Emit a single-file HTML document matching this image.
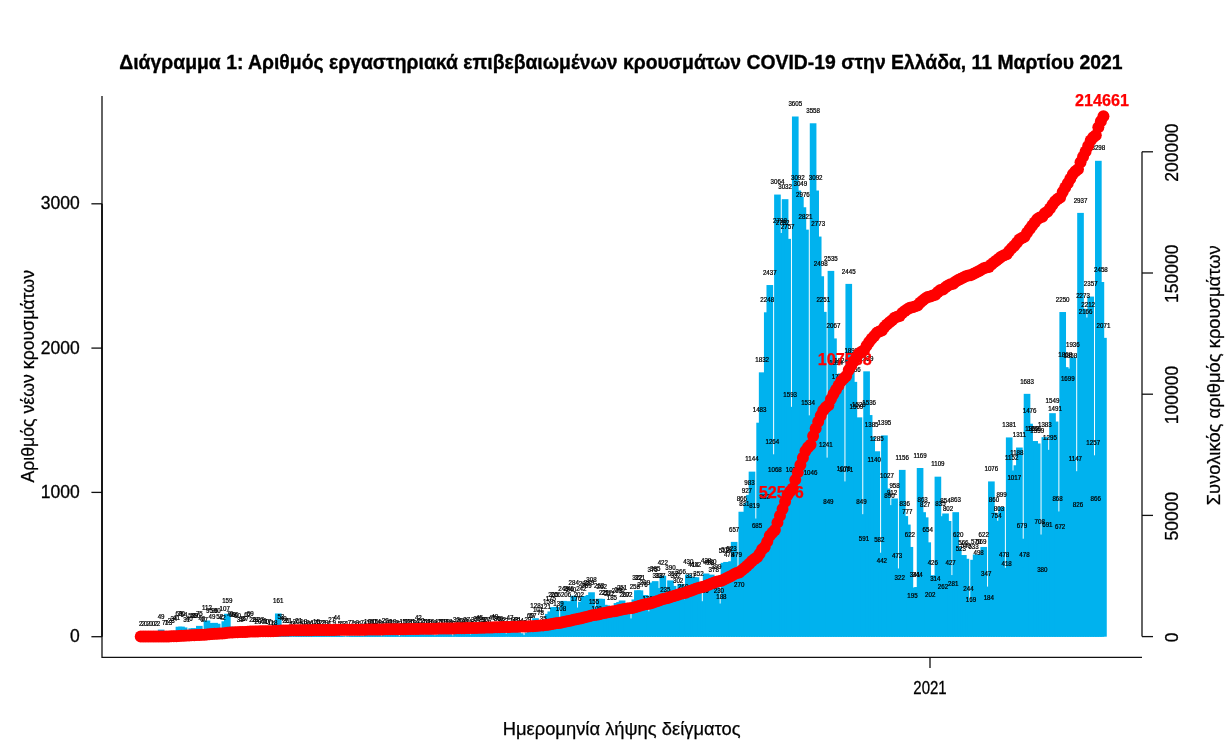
<!DOCTYPE html>
<html lang="el"><head><meta charset="utf-8"><title>Διάγραμμα 1</title>
<style>html,body{margin:0;padding:0;background:#fff}svg{display:block;will-change:transform}text{font-family:"Liberation Sans",sans-serif}</style></head><body>
<svg width="1232" height="752" viewBox="0 0 1232 752">
<g fill="#00b2ee">
<rect x="137.43" y="636.41" width="6.65" height="0.29"/>
<rect x="139.97" y="636.41" width="6.65" height="0.29"/>
<rect x="145.07" y="636.41" width="6.65" height="0.29"/>
<rect x="152.71" y="636.41" width="6.65" height="0.29"/>
<rect x="155.25" y="636.41" width="6.65" height="0.29"/>
<rect x="157.80" y="629.63" width="6.65" height="7.07"/>
<rect x="160.35" y="635.69" width="6.65" height="1.01"/>
<rect x="162.89" y="635.69" width="6.65" height="1.01"/>
<rect x="165.44" y="634.82" width="6.65" height="1.88"/>
<rect x="167.99" y="633.38" width="6.65" height="3.32"/>
<rect x="170.53" y="631.79" width="6.65" height="4.91"/>
<rect x="173.08" y="630.78" width="6.65" height="5.92"/>
<rect x="175.63" y="626.74" width="6.65" height="9.96"/>
<rect x="178.17" y="626.60" width="6.65" height="10.10"/>
<rect x="180.72" y="627.46" width="6.65" height="9.24"/>
<rect x="183.27" y="632.23" width="6.65" height="4.47"/>
<rect x="185.81" y="630.93" width="6.65" height="5.77"/>
<rect x="188.36" y="628.33" width="6.65" height="8.37"/>
<rect x="190.91" y="628.19" width="6.65" height="8.51"/>
<rect x="193.45" y="628.62" width="6.65" height="8.08"/>
<rect x="196.00" y="625.88" width="6.65" height="10.82"/>
<rect x="198.55" y="630.93" width="6.65" height="5.77"/>
<rect x="201.10" y="632.80" width="6.65" height="3.90"/>
<rect x="203.64" y="620.54" width="6.65" height="16.16"/>
<rect x="206.19" y="622.99" width="6.65" height="13.71"/>
<rect x="208.74" y="629.63" width="6.65" height="7.07"/>
<rect x="211.28" y="622.85" width="6.65" height="13.85"/>
<rect x="213.83" y="623.71" width="6.65" height="12.99"/>
<rect x="216.38" y="629.20" width="6.65" height="7.50"/>
<rect x="218.92" y="630.64" width="6.65" height="6.06"/>
<rect x="221.47" y="621.26" width="6.65" height="15.44"/>
<rect x="224.02" y="613.76" width="6.65" height="22.94"/>
<rect x="226.56" y="626.60" width="6.65" height="10.10"/>
<rect x="229.11" y="626.89" width="6.65" height="9.81"/>
<rect x="231.66" y="627.18" width="6.65" height="9.52"/>
<rect x="234.20" y="628.04" width="6.65" height="8.66"/>
<rect x="236.75" y="632.23" width="6.65" height="4.47"/>
<rect x="239.30" y="631.51" width="6.65" height="5.19"/>
<rect x="241.84" y="631.36" width="6.65" height="5.34"/>
<rect x="244.39" y="627.75" width="6.65" height="8.95"/>
<rect x="246.94" y="626.74" width="6.65" height="9.96"/>
<rect x="249.48" y="632.66" width="6.65" height="4.04"/>
<rect x="252.03" y="632.66" width="6.65" height="4.04"/>
<rect x="254.58" y="633.81" width="6.65" height="2.89"/>
<rect x="257.12" y="632.80" width="6.65" height="3.90"/>
<rect x="259.67" y="632.95" width="6.65" height="3.75"/>
<rect x="262.22" y="633.81" width="6.65" height="2.89"/>
<rect x="264.77" y="634.25" width="6.65" height="2.45"/>
<rect x="267.31" y="635.11" width="6.65" height="1.59"/>
<rect x="269.86" y="635.83" width="6.65" height="0.87"/>
<rect x="272.41" y="635.55" width="6.65" height="1.15"/>
<rect x="274.95" y="613.47" width="6.65" height="23.23"/>
<rect x="277.50" y="629.05" width="6.65" height="7.65"/>
<rect x="280.05" y="630.93" width="6.65" height="5.77"/>
<rect x="282.59" y="632.95" width="6.65" height="3.75"/>
<rect x="285.14" y="633.67" width="6.65" height="3.03"/>
<rect x="287.69" y="636.12" width="6.65" height="0.58"/>
<rect x="290.23" y="636.27" width="6.65" height="0.43"/>
<rect x="292.78" y="633.81" width="6.65" height="2.89"/>
<rect x="295.33" y="633.67" width="6.65" height="3.03"/>
<rect x="297.87" y="635.83" width="6.65" height="0.87"/>
<rect x="300.42" y="634.10" width="6.65" height="2.60"/>
<rect x="302.97" y="635.26" width="6.65" height="1.44"/>
<rect x="305.51" y="635.83" width="6.65" height="0.87"/>
<rect x="308.06" y="635.83" width="6.65" height="0.87"/>
<rect x="310.61" y="634.97" width="6.65" height="1.73"/>
<rect x="313.15" y="634.54" width="6.65" height="2.16"/>
<rect x="315.70" y="634.97" width="6.65" height="1.73"/>
<rect x="318.25" y="634.97" width="6.65" height="1.73"/>
<rect x="320.79" y="635.40" width="6.65" height="1.30"/>
<rect x="323.34" y="635.40" width="6.65" height="1.30"/>
<rect x="325.89" y="636.12" width="6.65" height="0.58"/>
<rect x="328.44" y="632.80" width="6.65" height="3.90"/>
<rect x="330.98" y="635.40" width="6.65" height="1.30"/>
<rect x="333.53" y="630.35" width="6.65" height="6.35"/>
<rect x="336.08" y="635.98" width="6.65" height="0.72"/>
<rect x="338.62" y="635.98" width="6.65" height="0.72"/>
<rect x="341.17" y="636.27" width="6.65" height="0.43"/>
<rect x="343.72" y="636.56" width="6.65" height="0.14"/>
<rect x="346.26" y="635.69" width="6.65" height="1.01"/>
<rect x="348.81" y="635.69" width="6.65" height="1.01"/>
<rect x="351.36" y="635.98" width="6.65" height="0.72"/>
<rect x="353.90" y="635.55" width="6.65" height="1.15"/>
<rect x="356.45" y="635.83" width="6.65" height="0.87"/>
<rect x="359.00" y="635.69" width="6.65" height="1.01"/>
<rect x="361.54" y="636.12" width="6.65" height="0.58"/>
<rect x="364.09" y="633.96" width="6.65" height="2.74"/>
<rect x="366.64" y="634.82" width="6.65" height="1.88"/>
<rect x="369.18" y="633.81" width="6.65" height="2.89"/>
<rect x="371.73" y="634.54" width="6.65" height="2.16"/>
<rect x="374.28" y="634.68" width="6.65" height="2.02"/>
<rect x="376.82" y="635.55" width="6.65" height="1.15"/>
<rect x="379.37" y="636.27" width="6.65" height="0.43"/>
<rect x="381.92" y="633.53" width="6.65" height="3.17"/>
<rect x="384.46" y="634.68" width="6.65" height="2.02"/>
<rect x="387.01" y="635.11" width="6.65" height="1.59"/>
<rect x="389.56" y="633.96" width="6.65" height="2.74"/>
<rect x="392.11" y="634.97" width="6.65" height="1.73"/>
<rect x="394.65" y="635.83" width="6.65" height="0.87"/>
<rect x="397.20" y="636.27" width="6.65" height="0.43"/>
<rect x="399.75" y="634.54" width="6.65" height="2.16"/>
<rect x="402.29" y="634.25" width="6.65" height="2.45"/>
<rect x="404.84" y="634.10" width="6.65" height="2.60"/>
<rect x="407.39" y="634.54" width="6.65" height="2.16"/>
<rect x="409.93" y="634.82" width="6.65" height="1.88"/>
<rect x="412.48" y="634.68" width="6.65" height="2.02"/>
<rect x="415.03" y="630.64" width="6.65" height="6.06"/>
<rect x="417.57" y="633.53" width="6.65" height="3.17"/>
<rect x="420.12" y="634.54" width="6.65" height="2.16"/>
<rect x="422.67" y="634.68" width="6.65" height="2.02"/>
<rect x="425.21" y="634.10" width="6.65" height="2.60"/>
<rect x="427.76" y="634.39" width="6.65" height="2.31"/>
<rect x="430.31" y="635.26" width="6.65" height="1.44"/>
<rect x="432.85" y="635.83" width="6.65" height="0.87"/>
<rect x="435.40" y="634.54" width="6.65" height="2.16"/>
<rect x="437.95" y="633.81" width="6.65" height="2.89"/>
<rect x="440.49" y="633.96" width="6.65" height="2.74"/>
<rect x="443.04" y="633.96" width="6.65" height="2.74"/>
<rect x="445.59" y="634.10" width="6.65" height="2.60"/>
<rect x="448.13" y="635.40" width="6.65" height="1.30"/>
<rect x="450.68" y="636.27" width="6.65" height="0.43"/>
<rect x="453.23" y="631.94" width="6.65" height="4.76"/>
<rect x="455.78" y="633.67" width="6.65" height="3.03"/>
<rect x="458.32" y="634.10" width="6.65" height="2.60"/>
<rect x="460.87" y="633.38" width="6.65" height="3.32"/>
<rect x="463.42" y="632.80" width="6.65" height="3.90"/>
<rect x="465.96" y="634.39" width="6.65" height="2.31"/>
<rect x="468.51" y="635.83" width="6.65" height="0.87"/>
<rect x="471.06" y="632.37" width="6.65" height="4.33"/>
<rect x="473.60" y="631.65" width="6.65" height="5.05"/>
<rect x="476.15" y="630.21" width="6.65" height="6.49"/>
<rect x="478.70" y="632.52" width="6.65" height="4.18"/>
<rect x="481.24" y="632.37" width="6.65" height="4.33"/>
<rect x="483.79" y="632.80" width="6.65" height="3.90"/>
<rect x="486.34" y="635.55" width="6.65" height="1.15"/>
<rect x="488.88" y="630.21" width="6.65" height="6.49"/>
<rect x="491.43" y="629.63" width="6.65" height="7.07"/>
<rect x="493.98" y="631.51" width="6.65" height="5.19"/>
<rect x="496.52" y="630.93" width="6.65" height="5.77"/>
<rect x="499.07" y="632.08" width="6.65" height="4.62"/>
<rect x="501.62" y="633.53" width="6.65" height="3.17"/>
<rect x="504.16" y="636.27" width="6.65" height="0.43"/>
<rect x="506.71" y="629.92" width="6.65" height="6.78"/>
<rect x="509.26" y="633.24" width="6.65" height="3.46"/>
<rect x="511.80" y="631.94" width="6.65" height="4.76"/>
<rect x="514.35" y="632.23" width="6.65" height="4.47"/>
<rect x="516.90" y="633.24" width="6.65" height="3.46"/>
<rect x="519.44" y="635.26" width="6.65" height="1.44"/>
<rect x="521.99" y="635.40" width="6.65" height="1.30"/>
<rect x="524.54" y="632.52" width="6.65" height="4.18"/>
<rect x="527.09" y="628.04" width="6.65" height="8.66"/>
<rect x="529.63" y="628.47" width="6.65" height="8.23"/>
<rect x="532.18" y="618.23" width="6.65" height="18.47"/>
<rect x="534.73" y="622.13" width="6.65" height="14.57"/>
<rect x="537.27" y="625.44" width="6.65" height="11.26"/>
<rect x="539.82" y="631.65" width="6.65" height="5.05"/>
<rect x="542.37" y="619.24" width="6.65" height="17.46"/>
<rect x="544.91" y="613.90" width="6.65" height="22.80"/>
<rect x="547.46" y="611.45" width="6.65" height="25.25"/>
<rect x="550.01" y="607.12" width="6.65" height="29.58"/>
<rect x="552.55" y="606.97" width="6.65" height="29.73"/>
<rect x="555.10" y="616.64" width="6.65" height="20.06"/>
<rect x="557.65" y="621.12" width="6.65" height="15.58"/>
<rect x="560.19" y="600.91" width="6.65" height="35.79"/>
<rect x="562.74" y="606.97" width="6.65" height="29.73"/>
<rect x="565.29" y="601.20" width="6.65" height="35.50"/>
<rect x="567.83" y="602.07" width="6.65" height="34.63"/>
<rect x="570.38" y="595.72" width="6.65" height="40.98"/>
<rect x="572.93" y="611.30" width="6.65" height="25.40"/>
<rect x="575.47" y="607.55" width="6.65" height="29.15"/>
<rect x="578.02" y="601.78" width="6.65" height="34.92"/>
<rect x="580.57" y="596.01" width="6.65" height="40.69"/>
<rect x="583.12" y="597.88" width="6.65" height="38.82"/>
<rect x="585.66" y="595.00" width="6.65" height="41.70"/>
<rect x="588.21" y="592.26" width="6.65" height="44.44"/>
<rect x="590.76" y="614.33" width="6.65" height="22.37"/>
<rect x="593.30" y="621.12" width="6.65" height="15.58"/>
<rect x="595.85" y="598.75" width="6.65" height="37.95"/>
<rect x="598.40" y="598.89" width="6.65" height="37.81"/>
<rect x="600.94" y="604.81" width="6.65" height="31.89"/>
<rect x="603.49" y="605.39" width="6.65" height="31.31"/>
<rect x="606.04" y="606.11" width="6.65" height="30.59"/>
<rect x="608.58" y="610.00" width="6.65" height="26.70"/>
<rect x="611.13" y="621.84" width="6.65" height="14.86"/>
<rect x="613.68" y="603.08" width="6.65" height="33.62"/>
<rect x="616.22" y="602.07" width="6.65" height="34.63"/>
<rect x="618.77" y="600.48" width="6.65" height="36.22"/>
<rect x="621.32" y="606.83" width="6.65" height="29.87"/>
<rect x="623.86" y="607.55" width="6.65" height="29.15"/>
<rect x="626.41" y="618.81" width="6.65" height="17.89"/>
<rect x="628.96" y="618.52" width="6.65" height="18.18"/>
<rect x="631.50" y="599.47" width="6.65" height="37.23"/>
<rect x="634.05" y="590.24" width="6.65" height="46.46"/>
<rect x="636.60" y="590.38" width="6.65" height="46.32"/>
<rect x="639.14" y="596.87" width="6.65" height="39.83"/>
<rect x="641.69" y="595.00" width="6.65" height="41.70"/>
<rect x="644.24" y="611.30" width="6.65" height="25.40"/>
<rect x="646.78" y="617.22" width="6.65" height="19.48"/>
<rect x="649.33" y="582.59" width="6.65" height="54.11"/>
<rect x="651.88" y="581.14" width="6.65" height="55.56"/>
<rect x="654.43" y="588.65" width="6.65" height="48.05"/>
<rect x="656.97" y="588.07" width="6.65" height="48.63"/>
<rect x="659.52" y="575.81" width="6.65" height="60.89"/>
<rect x="662.07" y="602.79" width="6.65" height="33.91"/>
<rect x="664.61" y="608.71" width="6.65" height="27.99"/>
<rect x="667.16" y="580.42" width="6.65" height="56.28"/>
<rect x="669.71" y="585.91" width="6.65" height="50.79"/>
<rect x="672.25" y="588.79" width="6.65" height="47.91"/>
<rect x="674.80" y="593.12" width="6.65" height="43.58"/>
<rect x="677.35" y="583.89" width="6.65" height="52.81"/>
<rect x="679.89" y="599.18" width="6.65" height="37.52"/>
<rect x="682.44" y="603.22" width="6.65" height="33.48"/>
<rect x="684.99" y="574.65" width="6.65" height="62.05"/>
<rect x="687.53" y="588.07" width="6.65" height="48.63"/>
<rect x="690.08" y="576.96" width="6.65" height="59.74"/>
<rect x="692.63" y="577.25" width="6.65" height="59.45"/>
<rect x="695.17" y="585.91" width="6.65" height="50.79"/>
<rect x="697.72" y="601.20" width="6.65" height="35.50"/>
<rect x="700.27" y="603.51" width="6.65" height="33.19"/>
<rect x="702.81" y="573.50" width="6.65" height="63.20"/>
<rect x="705.36" y="574.94" width="6.65" height="61.76"/>
<rect x="707.91" y="574.65" width="6.65" height="62.05"/>
<rect x="710.46" y="582.15" width="6.65" height="54.55"/>
<rect x="713.00" y="579.12" width="6.65" height="57.58"/>
<rect x="715.55" y="603.51" width="6.65" height="33.19"/>
<rect x="718.10" y="609.57" width="6.65" height="27.13"/>
<rect x="720.64" y="562.82" width="6.65" height="73.88"/>
<rect x="723.19" y="561.95" width="6.65" height="74.75"/>
<rect x="725.74" y="567.72" width="6.65" height="68.98"/>
<rect x="728.28" y="561.23" width="6.65" height="75.47"/>
<rect x="730.83" y="541.89" width="6.65" height="94.81"/>
<rect x="733.38" y="567.58" width="6.65" height="69.12"/>
<rect x="735.92" y="597.74" width="6.65" height="38.96"/>
<rect x="738.47" y="511.74" width="6.65" height="124.96"/>
<rect x="741.02" y="516.79" width="6.65" height="119.91"/>
<rect x="743.56" y="502.93" width="6.65" height="133.77"/>
<rect x="746.11" y="494.85" width="6.65" height="141.85"/>
<rect x="748.66" y="471.62" width="6.65" height="165.08"/>
<rect x="751.20" y="518.52" width="6.65" height="118.18"/>
<rect x="753.75" y="537.85" width="6.65" height="98.85"/>
<rect x="756.30" y="422.70" width="6.65" height="214.00"/>
<rect x="758.84" y="372.34" width="6.65" height="264.36"/>
<rect x="761.39" y="509.43" width="6.65" height="127.27"/>
<rect x="763.94" y="312.31" width="6.65" height="324.39"/>
<rect x="766.48" y="285.04" width="6.65" height="351.66"/>
<rect x="769.03" y="454.30" width="6.65" height="182.40"/>
<rect x="771.58" y="482.59" width="6.65" height="154.11"/>
<rect x="774.12" y="194.56" width="6.65" height="442.14"/>
<rect x="776.67" y="232.95" width="6.65" height="403.75"/>
<rect x="779.22" y="235.26" width="6.65" height="401.44"/>
<rect x="781.77" y="199.18" width="6.65" height="437.52"/>
<rect x="784.31" y="238.86" width="6.65" height="397.84"/>
<rect x="786.86" y="406.83" width="6.65" height="229.87"/>
<rect x="789.41" y="481.87" width="6.65" height="154.83"/>
<rect x="791.95" y="116.50" width="6.65" height="520.20"/>
<rect x="794.50" y="190.52" width="6.65" height="446.18"/>
<rect x="797.05" y="196.73" width="6.65" height="439.97"/>
<rect x="799.59" y="207.26" width="6.65" height="429.44"/>
<rect x="802.14" y="229.63" width="6.65" height="407.07"/>
<rect x="804.69" y="415.34" width="6.65" height="221.36"/>
<rect x="807.23" y="485.76" width="6.65" height="150.94"/>
<rect x="809.78" y="123.28" width="6.65" height="513.42"/>
<rect x="812.33" y="190.52" width="6.65" height="446.18"/>
<rect x="814.87" y="236.56" width="6.65" height="400.14"/>
<rect x="817.42" y="276.24" width="6.65" height="360.46"/>
<rect x="819.97" y="311.88" width="6.65" height="324.82"/>
<rect x="822.51" y="457.62" width="6.65" height="179.08"/>
<rect x="825.06" y="514.19" width="6.65" height="122.51"/>
<rect x="827.61" y="270.90" width="6.65" height="365.80"/>
<rect x="830.15" y="338.43" width="6.65" height="298.27"/>
<rect x="832.70" y="374.94" width="6.65" height="261.76"/>
<rect x="835.25" y="389.23" width="6.65" height="247.47"/>
<rect x="837.79" y="373.50" width="6.65" height="263.20"/>
<rect x="840.34" y="481.43" width="6.65" height="155.27"/>
<rect x="842.89" y="482.15" width="6.65" height="154.55"/>
<rect x="845.44" y="283.89" width="6.65" height="352.81"/>
<rect x="847.98" y="362.96" width="6.65" height="273.74"/>
<rect x="850.53" y="381.87" width="6.65" height="254.83"/>
<rect x="853.08" y="418.95" width="6.65" height="217.75"/>
<rect x="855.62" y="417.36" width="6.65" height="219.34"/>
<rect x="858.17" y="514.19" width="6.65" height="122.51"/>
<rect x="860.72" y="551.42" width="6.65" height="85.28"/>
<rect x="863.26" y="371.33" width="6.65" height="265.37"/>
<rect x="865.81" y="415.06" width="6.65" height="221.64"/>
<rect x="868.36" y="436.84" width="6.65" height="199.86"/>
<rect x="870.90" y="472.20" width="6.65" height="164.50"/>
<rect x="873.45" y="451.27" width="6.65" height="185.43"/>
<rect x="876.00" y="552.72" width="6.65" height="83.98"/>
<rect x="878.54" y="572.92" width="6.65" height="63.78"/>
<rect x="881.09" y="435.40" width="6.65" height="201.30"/>
<rect x="883.64" y="488.50" width="6.65" height="148.20"/>
<rect x="886.18" y="508.27" width="6.65" height="128.43"/>
<rect x="888.73" y="505.10" width="6.65" height="131.60"/>
<rect x="891.28" y="498.46" width="6.65" height="138.24"/>
<rect x="893.82" y="568.45" width="6.65" height="68.25"/>
<rect x="896.37" y="590.24" width="6.65" height="46.46"/>
<rect x="898.92" y="469.89" width="6.65" height="166.81"/>
<rect x="901.47" y="516.07" width="6.65" height="120.63"/>
<rect x="904.01" y="524.58" width="6.65" height="112.12"/>
<rect x="906.56" y="546.95" width="6.65" height="89.75"/>
<rect x="909.11" y="608.56" width="6.65" height="28.14"/>
<rect x="911.65" y="587.49" width="6.65" height="49.21"/>
<rect x="914.20" y="587.06" width="6.65" height="49.64"/>
<rect x="916.75" y="468.01" width="6.65" height="168.69"/>
<rect x="919.29" y="512.17" width="6.65" height="124.53"/>
<rect x="921.84" y="517.36" width="6.65" height="119.34"/>
<rect x="924.39" y="542.33" width="6.65" height="94.37"/>
<rect x="926.93" y="607.55" width="6.65" height="29.15"/>
<rect x="929.48" y="575.23" width="6.65" height="61.47"/>
<rect x="932.03" y="591.39" width="6.65" height="45.31"/>
<rect x="934.57" y="476.67" width="6.65" height="160.03"/>
<rect x="937.12" y="516.21" width="6.65" height="120.49"/>
<rect x="939.67" y="598.89" width="6.65" height="37.81"/>
<rect x="942.21" y="513.47" width="6.65" height="123.23"/>
<rect x="944.76" y="520.97" width="6.65" height="115.73"/>
<rect x="947.31" y="575.08" width="6.65" height="61.62"/>
<rect x="949.85" y="596.15" width="6.65" height="40.55"/>
<rect x="952.40" y="512.17" width="6.65" height="124.53"/>
<rect x="954.95" y="547.23" width="6.65" height="89.47"/>
<rect x="957.49" y="561.23" width="6.65" height="75.47"/>
<rect x="960.04" y="555.03" width="6.65" height="81.67"/>
<rect x="962.59" y="558.78" width="6.65" height="77.92"/>
<rect x="965.13" y="601.49" width="6.65" height="35.21"/>
<rect x="967.68" y="612.31" width="6.65" height="24.39"/>
<rect x="970.23" y="559.79" width="6.65" height="76.91"/>
<rect x="972.78" y="554.45" width="6.65" height="82.25"/>
<rect x="975.32" y="564.84" width="6.65" height="71.86"/>
<rect x="977.87" y="554.59" width="6.65" height="82.11"/>
<rect x="980.42" y="546.95" width="6.65" height="89.75"/>
<rect x="982.96" y="586.63" width="6.65" height="50.07"/>
<rect x="985.51" y="610.15" width="6.65" height="26.55"/>
<rect x="988.06" y="481.43" width="6.65" height="155.27"/>
<rect x="990.60" y="512.60" width="6.65" height="124.10"/>
<rect x="993.15" y="527.90" width="6.65" height="108.80"/>
<rect x="995.70" y="520.83" width="6.65" height="115.87"/>
<rect x="998.24" y="506.97" width="6.65" height="129.73"/>
<rect x="1000.79" y="567.72" width="6.65" height="68.98"/>
<rect x="1003.34" y="576.38" width="6.65" height="60.32"/>
<rect x="1005.88" y="437.42" width="6.65" height="199.28"/>
<rect x="1008.43" y="470.47" width="6.65" height="166.23"/>
<rect x="1010.98" y="489.95" width="6.65" height="146.75"/>
<rect x="1013.52" y="465.27" width="6.65" height="171.43"/>
<rect x="1016.07" y="447.52" width="6.65" height="189.18"/>
<rect x="1018.62" y="538.72" width="6.65" height="97.98"/>
<rect x="1021.16" y="567.72" width="6.65" height="68.98"/>
<rect x="1023.71" y="393.84" width="6.65" height="242.86"/>
<rect x="1026.26" y="423.71" width="6.65" height="212.99"/>
<rect x="1028.81" y="441.61" width="6.65" height="195.09"/>
<rect x="1031.35" y="441.03" width="6.65" height="195.67"/>
<rect x="1033.90" y="443.48" width="6.65" height="193.22"/>
<rect x="1036.45" y="534.54" width="6.65" height="102.16"/>
<rect x="1038.99" y="581.87" width="6.65" height="54.83"/>
<rect x="1041.54" y="437.13" width="6.65" height="199.57"/>
<rect x="1044.09" y="536.99" width="6.65" height="99.71"/>
<rect x="1046.63" y="449.83" width="6.65" height="186.87"/>
<rect x="1049.18" y="413.18" width="6.65" height="223.52"/>
<rect x="1051.73" y="421.55" width="6.65" height="215.15"/>
<rect x="1054.27" y="511.45" width="6.65" height="125.25"/>
<rect x="1056.82" y="539.73" width="6.65" height="96.97"/>
<rect x="1059.37" y="312.03" width="6.65" height="324.68"/>
<rect x="1061.91" y="367.15" width="6.65" height="269.55"/>
<rect x="1064.46" y="391.53" width="6.65" height="245.17"/>
<rect x="1067.01" y="368.59" width="6.65" height="268.11"/>
<rect x="1069.55" y="357.34" width="6.65" height="279.36"/>
<rect x="1072.10" y="471.19" width="6.65" height="165.51"/>
<rect x="1074.65" y="517.51" width="6.65" height="119.19"/>
<rect x="1077.19" y="212.89" width="6.65" height="423.81"/>
<rect x="1079.74" y="308.71" width="6.65" height="327.99"/>
<rect x="1082.29" y="324.15" width="6.65" height="312.55"/>
<rect x="1084.83" y="317.51" width="6.65" height="319.19"/>
<rect x="1087.38" y="296.58" width="6.65" height="340.12"/>
<rect x="1089.93" y="455.31" width="6.65" height="181.39"/>
<rect x="1092.48" y="511.74" width="6.65" height="124.96"/>
<rect x="1095.02" y="160.80" width="6.65" height="475.90"/>
<rect x="1097.57" y="282.01" width="6.65" height="354.69"/>
<rect x="1100.12" y="337.85" width="6.65" height="298.85"/>
</g>
<g font-size="7" text-anchor="middle" fill="#000" stroke="#000" stroke-width="0.25" transform="scale(0.885 1)">
<text x="159.04" y="626.11">2</text>
<text x="161.92" y="626.11">2</text>
<text x="164.80" y="626.40">0</text>
<text x="167.67" y="626.11">2</text>
<text x="170.55" y="626.40">0</text>
<text x="173.43" y="626.40">0</text>
<text x="176.31" y="626.11">2</text>
<text x="179.18" y="626.11">2</text>
<text x="182.06" y="619.33">49</text>
<text x="184.94" y="625.39">7</text>
<text x="187.82" y="625.39">7</text>
<text x="190.69" y="624.52">13</text>
<text x="193.57" y="623.08">23</text>
<text x="196.45" y="621.49">34</text>
<text x="199.33" y="620.48">41</text>
<text x="202.21" y="616.44">69</text>
<text x="205.08" y="616.30">70</text>
<text x="207.96" y="617.16">64</text>
<text x="210.84" y="621.93">31</text>
<text x="213.72" y="620.63">40</text>
<text x="216.59" y="618.03">58</text>
<text x="219.47" y="617.89">59</text>
<text x="222.35" y="618.32">56</text>
<text x="225.23" y="615.58">75</text>
<text x="228.11" y="620.63">40</text>
<text x="230.98" y="622.50">27</text>
<text x="233.86" y="610.24">112</text>
<text x="236.74" y="612.69">95</text>
<text x="239.62" y="619.33">49</text>
<text x="242.49" y="612.55">96</text>
<text x="245.37" y="613.41">90</text>
<text x="248.25" y="618.90">52</text>
<text x="251.13" y="620.34">42</text>
<text x="254.00" y="610.96">107</text>
<text x="256.88" y="603.46">159</text>
<text x="259.76" y="616.30">70</text>
<text x="262.64" y="616.59">68</text>
<text x="265.52" y="616.88">66</text>
<text x="268.39" y="617.74">60</text>
<text x="271.27" y="621.93">31</text>
<text x="274.15" y="621.21">36</text>
<text x="277.03" y="621.06">37</text>
<text x="279.90" y="617.45">62</text>
<text x="282.78" y="616.44">69</text>
<text x="285.66" y="622.36">28</text>
<text x="288.54" y="622.36">28</text>
<text x="291.42" y="623.51">20</text>
<text x="294.29" y="622.50">27</text>
<text x="297.17" y="622.65">26</text>
<text x="300.05" y="623.51">20</text>
<text x="302.93" y="623.95">17</text>
<text x="305.80" y="624.81">11</text>
<text x="308.68" y="625.53">6</text>
<text x="311.56" y="625.25">8</text>
<text x="314.44" y="603.17">161</text>
<text x="317.32" y="618.75">53</text>
<text x="320.19" y="620.63">40</text>
<text x="323.07" y="622.65">26</text>
<text x="325.95" y="623.37">21</text>
<text x="328.83" y="625.82">4</text>
<text x="331.70" y="625.97">3</text>
<text x="334.58" y="623.51">20</text>
<text x="337.46" y="623.37">21</text>
<text x="340.34" y="625.53">6</text>
<text x="343.21" y="623.80">18</text>
<text x="346.09" y="624.96">10</text>
<text x="348.97" y="625.53">6</text>
<text x="351.85" y="625.53">6</text>
<text x="354.73" y="624.67">12</text>
<text x="357.60" y="624.24">15</text>
<text x="360.48" y="624.67">12</text>
<text x="363.36" y="624.67">12</text>
<text x="366.24" y="625.10">9</text>
<text x="369.11" y="625.10">9</text>
<text x="371.99" y="625.82">4</text>
<text x="374.87" y="622.50">27</text>
<text x="377.75" y="625.10">9</text>
<text x="380.63" y="620.05">44</text>
<text x="383.50" y="625.68">5</text>
<text x="386.38" y="625.68">5</text>
<text x="389.26" y="625.97">3</text>
<text x="392.14" y="626.26">1</text>
<text x="395.01" y="625.39">7</text>
<text x="397.89" y="625.39">7</text>
<text x="400.77" y="625.68">5</text>
<text x="403.65" y="625.25">8</text>
<text x="406.53" y="625.53">6</text>
<text x="409.40" y="625.39">7</text>
<text x="412.28" y="625.82">4</text>
<text x="415.16" y="623.66">19</text>
<text x="418.04" y="624.52">13</text>
<text x="420.91" y="623.51">20</text>
<text x="423.79" y="624.24">15</text>
<text x="426.67" y="624.38">14</text>
<text x="429.55" y="625.25">8</text>
<text x="432.42" y="625.97">3</text>
<text x="435.30" y="623.23">22</text>
<text x="438.18" y="624.38">14</text>
<text x="441.06" y="624.81">11</text>
<text x="443.94" y="623.66">19</text>
<text x="446.81" y="624.67">12</text>
<text x="449.69" y="625.53">6</text>
<text x="452.57" y="625.97">3</text>
<text x="455.45" y="624.24">15</text>
<text x="458.32" y="623.95">17</text>
<text x="461.20" y="623.80">18</text>
<text x="464.08" y="624.24">15</text>
<text x="466.96" y="624.52">13</text>
<text x="469.84" y="624.38">14</text>
<text x="472.71" y="620.34">42</text>
<text x="475.59" y="623.23">22</text>
<text x="478.47" y="624.24">15</text>
<text x="481.35" y="624.38">14</text>
<text x="484.22" y="623.80">18</text>
<text x="487.10" y="624.09">16</text>
<text x="489.98" y="624.96">10</text>
<text x="492.86" y="625.53">6</text>
<text x="495.74" y="624.24">15</text>
<text x="498.61" y="623.51">20</text>
<text x="501.49" y="623.66">19</text>
<text x="504.37" y="623.66">19</text>
<text x="507.25" y="623.80">18</text>
<text x="510.12" y="625.10">9</text>
<text x="513.00" y="625.97">3</text>
<text x="515.88" y="621.64">33</text>
<text x="518.76" y="623.37">21</text>
<text x="521.63" y="623.80">18</text>
<text x="524.51" y="623.08">23</text>
<text x="527.39" y="622.50">27</text>
<text x="530.27" y="624.09">16</text>
<text x="533.15" y="625.53">6</text>
<text x="536.02" y="622.07">30</text>
<text x="538.90" y="621.35">35</text>
<text x="541.78" y="619.91">45</text>
<text x="544.66" y="622.22">29</text>
<text x="547.53" y="622.07">30</text>
<text x="550.41" y="622.50">27</text>
<text x="553.29" y="625.25">8</text>
<text x="556.17" y="619.91">45</text>
<text x="559.05" y="619.33">49</text>
<text x="561.92" y="621.21">36</text>
<text x="564.80" y="620.63">40</text>
<text x="567.68" y="621.78">32</text>
<text x="570.56" y="623.23">22</text>
<text x="573.43" y="625.97">3</text>
<text x="576.31" y="619.62">47</text>
<text x="579.19" y="622.94">24</text>
<text x="582.07" y="621.64">33</text>
<text x="584.95" y="621.93">31</text>
<text x="587.82" y="622.94">24</text>
<text x="590.70" y="624.96">10</text>
<text x="593.58" y="625.10">9</text>
<text x="596.46" y="622.22">29</text>
<text x="599.33" y="617.74">60</text>
<text x="602.21" y="618.17">57</text>
<text x="605.09" y="607.93">128</text>
<text x="607.97" y="611.83">101</text>
<text x="610.84" y="615.14">78</text>
<text x="613.72" y="621.35">35</text>
<text x="616.60" y="608.94">121</text>
<text x="619.48" y="603.60">158</text>
<text x="622.36" y="601.15">175</text>
<text x="625.23" y="596.82">205</text>
<text x="628.11" y="596.67">206</text>
<text x="630.99" y="606.34">139</text>
<text x="633.87" y="610.82">108</text>
<text x="636.74" y="590.61">248</text>
<text x="639.62" y="596.67">206</text>
<text x="642.50" y="590.90">246</text>
<text x="645.38" y="591.77">240</text>
<text x="648.26" y="585.42">284</text>
<text x="651.13" y="601.00">176</text>
<text x="654.01" y="597.25">202</text>
<text x="656.89" y="591.48">242</text>
<text x="659.77" y="585.71">282</text>
<text x="662.64" y="587.58">269</text>
<text x="665.52" y="584.70">289</text>
<text x="668.40" y="581.96">308</text>
<text x="671.28" y="604.03">155</text>
<text x="674.16" y="610.82">108</text>
<text x="677.03" y="588.45">263</text>
<text x="679.91" y="588.59">262</text>
<text x="682.79" y="594.51">221</text>
<text x="685.67" y="595.09">217</text>
<text x="688.54" y="595.81">212</text>
<text x="691.42" y="599.70">185</text>
<text x="694.30" y="611.54">103</text>
<text x="697.18" y="592.78">233</text>
<text x="700.05" y="591.77">240</text>
<text x="702.93" y="590.18">251</text>
<text x="705.81" y="596.53">207</text>
<text x="708.69" y="597.25">202</text>
<text x="711.57" y="608.51">124</text>
<text x="714.44" y="608.22">126</text>
<text x="717.32" y="589.17">258</text>
<text x="720.20" y="579.94">322</text>
<text x="723.08" y="580.08">321</text>
<text x="725.95" y="586.57">276</text>
<text x="728.83" y="584.70">289</text>
<text x="731.71" y="601.00">176</text>
<text x="734.59" y="606.92">135</text>
<text x="737.47" y="572.29">375</text>
<text x="740.34" y="570.84">385</text>
<text x="743.22" y="578.35">333</text>
<text x="746.10" y="577.77">337</text>
<text x="748.98" y="565.51">422</text>
<text x="751.85" y="592.49">235</text>
<text x="754.73" y="598.41">194</text>
<text x="757.61" y="570.12">390</text>
<text x="760.49" y="575.61">352</text>
<text x="763.36" y="578.49">332</text>
<text x="766.24" y="582.82">302</text>
<text x="769.12" y="573.59">366</text>
<text x="772.00" y="588.88">260</text>
<text x="774.88" y="592.92">232</text>
<text x="777.75" y="564.35">430</text>
<text x="780.63" y="577.77">337</text>
<text x="783.51" y="566.66">414</text>
<text x="786.39" y="566.95">412</text>
<text x="789.26" y="575.61">352</text>
<text x="792.14" y="590.90">246</text>
<text x="795.02" y="593.21">230</text>
<text x="797.90" y="563.20">438</text>
<text x="800.78" y="564.64">428</text>
<text x="803.65" y="564.35">430</text>
<text x="806.53" y="571.85">378</text>
<text x="809.41" y="568.82">399</text>
<text x="812.29" y="593.21">230</text>
<text x="815.16" y="599.27">188</text>
<text x="818.04" y="552.52">512</text>
<text x="820.92" y="551.65">518</text>
<text x="823.80" y="557.42">478</text>
<text x="826.68" y="550.93">523</text>
<text x="829.55" y="531.59">657</text>
<text x="832.43" y="557.28">479</text>
<text x="835.31" y="587.44">270</text>
<text x="838.19" y="501.44">866</text>
<text x="841.06" y="506.49">831</text>
<text x="843.94" y="492.63">927</text>
<text x="846.82" y="484.55">983</text>
<text x="849.70" y="461.32">1144</text>
<text x="852.57" y="508.22">819</text>
<text x="855.45" y="527.55">685</text>
<text x="858.33" y="412.40">1483</text>
<text x="861.21" y="362.04">1832</text>
<text x="864.09" y="499.13">882</text>
<text x="866.96" y="302.01">2248</text>
<text x="869.84" y="274.74">2437</text>
<text x="872.72" y="444.00">1264</text>
<text x="875.60" y="472.29">1068</text>
<text x="878.47" y="184.26">3064</text>
<text x="881.35" y="222.65">2798</text>
<text x="884.23" y="224.96">2782</text>
<text x="887.11" y="188.88">3032</text>
<text x="889.99" y="228.56">2757</text>
<text x="892.86" y="396.53">1593</text>
<text x="895.74" y="471.57">1073</text>
<text x="898.62" y="106.20">3605</text>
<text x="901.50" y="180.22">3092</text>
<text x="904.37" y="186.43">3049</text>
<text x="907.25" y="196.96">2976</text>
<text x="910.13" y="219.33">2821</text>
<text x="913.01" y="405.04">1534</text>
<text x="915.89" y="475.46">1046</text>
<text x="918.76" y="112.98">3558</text>
<text x="921.64" y="180.22">3092</text>
<text x="924.52" y="226.26">2773</text>
<text x="927.40" y="265.94">2498</text>
<text x="930.27" y="301.58">2251</text>
<text x="933.15" y="447.32">1241</text>
<text x="936.03" y="503.89">849</text>
<text x="938.91" y="260.60">2535</text>
<text x="941.78" y="328.13">2067</text>
<text x="944.66" y="364.64">1814</text>
<text x="947.54" y="378.93">1715</text>
<text x="950.42" y="363.20">1824</text>
<text x="953.30" y="471.13">1076</text>
<text x="956.17" y="471.85">1071</text>
<text x="959.05" y="273.59">2445</text>
<text x="961.93" y="352.66">1897</text>
<text x="964.81" y="371.57">1766</text>
<text x="967.68" y="408.65">1509</text>
<text x="970.56" y="407.06">1520</text>
<text x="973.44" y="503.89">849</text>
<text x="976.32" y="541.12">591</text>
<text x="979.20" y="361.03">1839</text>
<text x="982.07" y="404.76">1536</text>
<text x="984.95" y="426.54">1385</text>
<text x="987.83" y="461.90">1140</text>
<text x="990.71" y="440.97">1285</text>
<text x="993.58" y="542.42">582</text>
<text x="996.46" y="562.62">442</text>
<text x="999.34" y="425.10">1395</text>
<text x="1002.22" y="478.20">1027</text>
<text x="1005.10" y="497.97">890</text>
<text x="1007.97" y="494.80">912</text>
<text x="1010.85" y="488.16">958</text>
<text x="1013.73" y="558.15">473</text>
<text x="1016.61" y="579.94">322</text>
<text x="1019.48" y="459.59">1156</text>
<text x="1022.36" y="505.77">836</text>
<text x="1025.24" y="514.28">777</text>
<text x="1028.12" y="536.65">622</text>
<text x="1030.99" y="598.26">195</text>
<text x="1033.87" y="577.19">341</text>
<text x="1036.75" y="576.76">344</text>
<text x="1039.63" y="457.71">1169</text>
<text x="1042.51" y="501.87">863</text>
<text x="1045.38" y="507.06">827</text>
<text x="1048.26" y="532.03">654</text>
<text x="1051.14" y="597.25">202</text>
<text x="1054.02" y="564.93">426</text>
<text x="1056.89" y="581.09">314</text>
<text x="1059.77" y="466.37">1109</text>
<text x="1062.65" y="505.91">835</text>
<text x="1065.53" y="588.59">262</text>
<text x="1068.41" y="503.17">854</text>
<text x="1071.28" y="510.67">802</text>
<text x="1074.16" y="564.78">427</text>
<text x="1077.04" y="585.85">281</text>
<text x="1079.92" y="501.87">863</text>
<text x="1082.79" y="536.93">620</text>
<text x="1085.67" y="550.93">523</text>
<text x="1088.55" y="544.73">566</text>
<text x="1091.43" y="548.48">540</text>
<text x="1094.31" y="591.19">244</text>
<text x="1097.18" y="602.01">169</text>
<text x="1100.06" y="549.49">533</text>
<text x="1102.94" y="544.15">570</text>
<text x="1105.82" y="554.54">498</text>
<text x="1108.69" y="544.29">569</text>
<text x="1111.57" y="536.65">622</text>
<text x="1114.45" y="576.33">347</text>
<text x="1117.33" y="599.85">184</text>
<text x="1120.20" y="471.13">1076</text>
<text x="1123.08" y="502.30">860</text>
<text x="1125.96" y="517.60">754</text>
<text x="1128.84" y="510.53">803</text>
<text x="1131.72" y="496.67">899</text>
<text x="1134.59" y="557.42">478</text>
<text x="1137.47" y="566.08">418</text>
<text x="1140.35" y="427.12">1381</text>
<text x="1143.23" y="460.17">1152</text>
<text x="1146.10" y="479.65">1017</text>
<text x="1148.98" y="454.97">1188</text>
<text x="1151.86" y="437.22">1311</text>
<text x="1154.74" y="528.42">679</text>
<text x="1157.62" y="557.42">478</text>
<text x="1160.49" y="383.54">1683</text>
<text x="1163.37" y="413.41">1476</text>
<text x="1166.25" y="431.31">1352</text>
<text x="1169.13" y="430.73">1356</text>
<text x="1172.00" y="433.18">1339</text>
<text x="1174.88" y="524.24">708</text>
<text x="1177.76" y="571.57">380</text>
<text x="1180.64" y="426.83">1383</text>
<text x="1183.52" y="526.69">691</text>
<text x="1186.39" y="439.53">1295</text>
<text x="1189.27" y="402.88">1549</text>
<text x="1192.15" y="411.25">1491</text>
<text x="1195.03" y="501.15">868</text>
<text x="1197.90" y="529.43">672</text>
<text x="1200.78" y="301.73">2250</text>
<text x="1203.66" y="356.85">1868</text>
<text x="1206.54" y="381.23">1699</text>
<text x="1209.41" y="358.29">1858</text>
<text x="1212.29" y="347.04">1936</text>
<text x="1215.17" y="460.89">1147</text>
<text x="1218.05" y="507.21">826</text>
<text x="1220.93" y="202.59">2937</text>
<text x="1223.80" y="298.41">2273</text>
<text x="1226.68" y="313.85">2166</text>
<text x="1229.56" y="307.21">2212</text>
<text x="1232.44" y="286.28">2357</text>
<text x="1235.31" y="445.01">1257</text>
<text x="1238.19" y="501.44">866</text>
<text x="1241.07" y="150.50">3298</text>
<text x="1243.95" y="271.71">2458</text>
<text x="1246.83" y="327.55">2071</text>
</g>
<g font-size="16.2" font-weight="bold" text-anchor="middle" fill="#ff0000" stroke="#ff0000" stroke-width="0.25">
<text x="781.14" y="498.41">52596</text>
<text x="844.81" y="365.23">107538</text>
<text x="1102.04" y="105.56">214661</text>
</g>
<g fill="#ff0000">
<circle cx="140.75" cy="636.60" r="6"/>
<circle cx="143.30" cy="636.59" r="6"/>
<circle cx="145.84" cy="636.59" r="6"/>
<circle cx="148.39" cy="636.59" r="6"/>
<circle cx="150.94" cy="636.59" r="6"/>
<circle cx="153.48" cy="636.59" r="6"/>
<circle cx="156.03" cy="636.58" r="6"/>
<circle cx="158.58" cy="636.58" r="6"/>
<circle cx="161.12" cy="636.46" r="6"/>
<circle cx="163.67" cy="636.44" r="6"/>
<circle cx="166.22" cy="636.42" r="6"/>
<circle cx="168.76" cy="636.39" r="6"/>
<circle cx="171.31" cy="636.34" r="6"/>
<circle cx="173.86" cy="636.25" r="6"/>
<circle cx="176.41" cy="636.15" r="6"/>
<circle cx="178.95" cy="635.99" r="6"/>
<circle cx="181.50" cy="635.82" r="6"/>
<circle cx="184.05" cy="635.66" r="6"/>
<circle cx="186.59" cy="635.59" r="6"/>
<circle cx="189.14" cy="635.49" r="6"/>
<circle cx="191.69" cy="635.35" r="6"/>
<circle cx="194.23" cy="635.21" r="6"/>
<circle cx="196.78" cy="635.07" r="6"/>
<circle cx="199.33" cy="634.89" r="6"/>
<circle cx="201.87" cy="634.79" r="6"/>
<circle cx="204.42" cy="634.73" r="6"/>
<circle cx="206.97" cy="634.45" r="6"/>
<circle cx="209.51" cy="634.22" r="6"/>
<circle cx="212.06" cy="634.11" r="6"/>
<circle cx="214.61" cy="633.87" r="6"/>
<circle cx="217.15" cy="633.65" r="6"/>
<circle cx="219.70" cy="633.53" r="6"/>
<circle cx="222.25" cy="633.43" r="6"/>
<circle cx="224.79" cy="633.17" r="6"/>
<circle cx="227.34" cy="632.78" r="6"/>
<circle cx="229.89" cy="632.61" r="6"/>
<circle cx="232.43" cy="632.45" r="6"/>
<circle cx="234.98" cy="632.29" r="6"/>
<circle cx="237.53" cy="632.14" r="6"/>
<circle cx="240.08" cy="632.07" r="6"/>
<circle cx="242.62" cy="631.98" r="6"/>
<circle cx="245.17" cy="631.89" r="6"/>
<circle cx="247.72" cy="631.74" r="6"/>
<circle cx="250.26" cy="631.57" r="6"/>
<circle cx="252.81" cy="631.50" r="6"/>
<circle cx="255.36" cy="631.44" r="6"/>
<circle cx="257.90" cy="631.39" r="6"/>
<circle cx="260.45" cy="631.32" r="6"/>
<circle cx="263.00" cy="631.26" r="6"/>
<circle cx="265.54" cy="631.21" r="6"/>
<circle cx="268.09" cy="631.17" r="6"/>
<circle cx="270.64" cy="631.14" r="6"/>
<circle cx="273.18" cy="631.13" r="6"/>
<circle cx="275.73" cy="631.11" r="6"/>
<circle cx="278.28" cy="630.72" r="6"/>
<circle cx="280.82" cy="630.59" r="6"/>
<circle cx="283.37" cy="630.49" r="6"/>
<circle cx="285.92" cy="630.43" r="6"/>
<circle cx="288.46" cy="630.38" r="6"/>
<circle cx="291.01" cy="630.37" r="6"/>
<circle cx="293.56" cy="630.36" r="6"/>
<circle cx="296.10" cy="630.31" r="6"/>
<circle cx="298.65" cy="630.26" r="6"/>
<circle cx="301.20" cy="630.25" r="6"/>
<circle cx="303.75" cy="630.21" r="6"/>
<circle cx="306.29" cy="630.18" r="6"/>
<circle cx="308.84" cy="630.17" r="6"/>
<circle cx="311.39" cy="630.15" r="6"/>
<circle cx="313.93" cy="630.12" r="6"/>
<circle cx="316.48" cy="630.09" r="6"/>
<circle cx="319.03" cy="630.06" r="6"/>
<circle cx="321.57" cy="630.03" r="6"/>
<circle cx="324.12" cy="630.01" r="6"/>
<circle cx="326.67" cy="629.98" r="6"/>
<circle cx="329.21" cy="629.98" r="6"/>
<circle cx="331.76" cy="629.91" r="6"/>
<circle cx="334.31" cy="629.89" r="6"/>
<circle cx="336.85" cy="629.78" r="6"/>
<circle cx="339.40" cy="629.77" r="6"/>
<circle cx="341.95" cy="629.76" r="6"/>
<circle cx="344.49" cy="629.75" r="6"/>
<circle cx="347.04" cy="629.75" r="6"/>
<circle cx="349.59" cy="629.73" r="6"/>
<circle cx="352.13" cy="629.71" r="6"/>
<circle cx="354.68" cy="629.70" r="6"/>
<circle cx="357.23" cy="629.68" r="6"/>
<circle cx="359.77" cy="629.67" r="6"/>
<circle cx="362.32" cy="629.65" r="6"/>
<circle cx="364.87" cy="629.64" r="6"/>
<circle cx="367.42" cy="629.59" r="6"/>
<circle cx="369.96" cy="629.56" r="6"/>
<circle cx="372.51" cy="629.51" r="6"/>
<circle cx="375.06" cy="629.48" r="6"/>
<circle cx="377.60" cy="629.44" r="6"/>
<circle cx="380.15" cy="629.42" r="6"/>
<circle cx="382.70" cy="629.42" r="6"/>
<circle cx="385.24" cy="629.36" r="6"/>
<circle cx="387.79" cy="629.33" r="6"/>
<circle cx="390.34" cy="629.30" r="6"/>
<circle cx="392.88" cy="629.26" r="6"/>
<circle cx="395.43" cy="629.23" r="6"/>
<circle cx="397.98" cy="629.21" r="6"/>
<circle cx="400.52" cy="629.21" r="6"/>
<circle cx="403.07" cy="629.17" r="6"/>
<circle cx="405.62" cy="629.13" r="6"/>
<circle cx="408.16" cy="629.09" r="6"/>
<circle cx="410.71" cy="629.05" r="6"/>
<circle cx="413.26" cy="629.02" r="6"/>
<circle cx="415.80" cy="628.98" r="6"/>
<circle cx="418.35" cy="628.88" r="6"/>
<circle cx="420.90" cy="628.83" r="6"/>
<circle cx="423.44" cy="628.79" r="6"/>
<circle cx="425.99" cy="628.76" r="6"/>
<circle cx="428.54" cy="628.71" r="6"/>
<circle cx="431.09" cy="628.68" r="6"/>
<circle cx="433.63" cy="628.65" r="6"/>
<circle cx="436.18" cy="628.64" r="6"/>
<circle cx="438.73" cy="628.60" r="6"/>
<circle cx="441.27" cy="628.55" r="6"/>
<circle cx="443.82" cy="628.51" r="6"/>
<circle cx="446.37" cy="628.46" r="6"/>
<circle cx="448.91" cy="628.42" r="6"/>
<circle cx="451.46" cy="628.39" r="6"/>
<circle cx="454.01" cy="628.39" r="6"/>
<circle cx="456.55" cy="628.31" r="6"/>
<circle cx="459.10" cy="628.26" r="6"/>
<circle cx="461.65" cy="628.21" r="6"/>
<circle cx="464.19" cy="628.16" r="6"/>
<circle cx="466.74" cy="628.09" r="6"/>
<circle cx="469.29" cy="628.05" r="6"/>
<circle cx="471.83" cy="628.04" r="6"/>
<circle cx="474.38" cy="627.97" r="6"/>
<circle cx="476.93" cy="627.88" r="6"/>
<circle cx="479.47" cy="627.77" r="6"/>
<circle cx="482.02" cy="627.70" r="6"/>
<circle cx="484.57" cy="627.63" r="6"/>
<circle cx="487.11" cy="627.56" r="6"/>
<circle cx="489.66" cy="627.54" r="6"/>
<circle cx="492.21" cy="627.43" r="6"/>
<circle cx="494.76" cy="627.32" r="6"/>
<circle cx="497.30" cy="627.23" r="6"/>
<circle cx="499.85" cy="627.13" r="6"/>
<circle cx="502.40" cy="627.05" r="6"/>
<circle cx="504.94" cy="627.00" r="6"/>
<circle cx="507.49" cy="626.99" r="6"/>
<circle cx="510.04" cy="626.88" r="6"/>
<circle cx="512.58" cy="626.82" r="6"/>
<circle cx="515.13" cy="626.74" r="6"/>
<circle cx="517.68" cy="626.67" r="6"/>
<circle cx="520.22" cy="626.61" r="6"/>
<circle cx="522.77" cy="626.58" r="6"/>
<circle cx="525.32" cy="626.56" r="6"/>
<circle cx="527.86" cy="626.49" r="6"/>
<circle cx="530.41" cy="626.35" r="6"/>
<circle cx="532.96" cy="626.21" r="6"/>
<circle cx="535.50" cy="625.90" r="6"/>
<circle cx="538.05" cy="625.65" r="6"/>
<circle cx="540.60" cy="625.46" r="6"/>
<circle cx="543.14" cy="625.38" r="6"/>
<circle cx="545.69" cy="625.09" r="6"/>
<circle cx="548.24" cy="624.70" r="6"/>
<circle cx="550.78" cy="624.28" r="6"/>
<circle cx="553.33" cy="623.78" r="6"/>
<circle cx="555.88" cy="623.28" r="6"/>
<circle cx="558.43" cy="622.95" r="6"/>
<circle cx="560.97" cy="622.68" r="6"/>
<circle cx="563.52" cy="622.08" r="6"/>
<circle cx="566.07" cy="621.58" r="6"/>
<circle cx="568.61" cy="620.99" r="6"/>
<circle cx="571.16" cy="620.41" r="6"/>
<circle cx="573.71" cy="619.72" r="6"/>
<circle cx="576.25" cy="619.29" r="6"/>
<circle cx="578.80" cy="618.80" r="6"/>
<circle cx="581.35" cy="618.21" r="6"/>
<circle cx="583.89" cy="617.53" r="6"/>
<circle cx="586.44" cy="616.88" r="6"/>
<circle cx="588.99" cy="616.18" r="6"/>
<circle cx="591.53" cy="615.43" r="6"/>
<circle cx="594.08" cy="615.06" r="6"/>
<circle cx="596.63" cy="614.79" r="6"/>
<circle cx="599.17" cy="614.16" r="6"/>
<circle cx="601.72" cy="613.52" r="6"/>
<circle cx="604.27" cy="612.99" r="6"/>
<circle cx="606.81" cy="612.46" r="6"/>
<circle cx="609.36" cy="611.95" r="6"/>
<circle cx="611.91" cy="611.50" r="6"/>
<circle cx="614.45" cy="611.25" r="6"/>
<circle cx="617.00" cy="610.68" r="6"/>
<circle cx="619.55" cy="610.10" r="6"/>
<circle cx="622.10" cy="609.49" r="6"/>
<circle cx="624.64" cy="608.99" r="6"/>
<circle cx="627.19" cy="608.50" r="6"/>
<circle cx="629.74" cy="608.20" r="6"/>
<circle cx="632.28" cy="607.89" r="6"/>
<circle cx="634.83" cy="607.27" r="6"/>
<circle cx="637.38" cy="606.49" r="6"/>
<circle cx="639.92" cy="605.71" r="6"/>
<circle cx="642.47" cy="605.04" r="6"/>
<circle cx="645.02" cy="604.34" r="6"/>
<circle cx="647.56" cy="603.91" r="6"/>
<circle cx="650.11" cy="603.59" r="6"/>
<circle cx="652.66" cy="602.68" r="6"/>
<circle cx="655.20" cy="601.75" r="6"/>
<circle cx="657.75" cy="600.94" r="6"/>
<circle cx="660.30" cy="600.12" r="6"/>
<circle cx="662.84" cy="599.10" r="6"/>
<circle cx="665.39" cy="598.53" r="6"/>
<circle cx="667.94" cy="598.06" r="6"/>
<circle cx="670.48" cy="597.11" r="6"/>
<circle cx="673.03" cy="596.26" r="6"/>
<circle cx="675.58" cy="595.46" r="6"/>
<circle cx="678.12" cy="594.72" r="6"/>
<circle cx="680.67" cy="593.84" r="6"/>
<circle cx="683.22" cy="593.21" r="6"/>
<circle cx="685.77" cy="592.64" r="6"/>
<circle cx="688.31" cy="591.60" r="6"/>
<circle cx="690.86" cy="590.78" r="6"/>
<circle cx="693.41" cy="589.78" r="6"/>
<circle cx="695.95" cy="588.78" r="6"/>
<circle cx="698.50" cy="587.93" r="6"/>
<circle cx="701.05" cy="587.33" r="6"/>
<circle cx="703.59" cy="586.77" r="6"/>
<circle cx="706.14" cy="585.71" r="6"/>
<circle cx="708.69" cy="584.68" r="6"/>
<circle cx="711.23" cy="583.63" r="6"/>
<circle cx="713.78" cy="582.72" r="6"/>
<circle cx="716.33" cy="581.75" r="6"/>
<circle cx="718.87" cy="581.19" r="6"/>
<circle cx="721.42" cy="580.74" r="6"/>
<circle cx="723.97" cy="579.50" r="6"/>
<circle cx="726.51" cy="578.24" r="6"/>
<circle cx="729.06" cy="577.08" r="6"/>
<circle cx="731.61" cy="575.81" r="6"/>
<circle cx="734.15" cy="574.22" r="6"/>
<circle cx="736.70" cy="573.06" r="6"/>
<circle cx="739.25" cy="572.41" r="6"/>
<circle cx="741.79" cy="570.31" r="6"/>
<circle cx="744.34" cy="568.29" r="6"/>
<circle cx="746.89" cy="566.04" r="6"/>
<circle cx="749.44" cy="563.66" r="6"/>
<circle cx="751.98" cy="560.89" r="6"/>
<circle cx="754.53" cy="558.90" r="6"/>
<circle cx="757.08" cy="557.24" r="6"/>
<circle cx="759.62" cy="553.65" r="6"/>
<circle cx="762.17" cy="549.21" r="6"/>
<circle cx="764.72" cy="547.07" r="6"/>
<circle cx="767.26" cy="541.62" r="6"/>
<circle cx="769.81" cy="535.71" r="6"/>
<circle cx="772.36" cy="532.65" r="6"/>
<circle cx="774.90" cy="530.06" r="6"/>
<circle cx="777.45" cy="522.63" r="6"/>
<circle cx="780.00" cy="515.85" r="6"/>
<circle cx="782.54" cy="509.11" r="6"/>
<circle cx="785.09" cy="501.76" r="6"/>
<circle cx="787.64" cy="495.07" r="6"/>
<circle cx="790.18" cy="491.21" r="6"/>
<circle cx="792.73" cy="488.61" r="6"/>
<circle cx="795.28" cy="479.87" r="6"/>
<circle cx="797.82" cy="472.38" r="6"/>
<circle cx="800.37" cy="464.99" r="6"/>
<circle cx="802.92" cy="457.77" r="6"/>
<circle cx="805.46" cy="450.94" r="6"/>
<circle cx="808.01" cy="447.22" r="6"/>
<circle cx="810.56" cy="444.68" r="6"/>
<circle cx="813.11" cy="436.06" r="6"/>
<circle cx="815.65" cy="428.56" r="6"/>
<circle cx="818.20" cy="421.84" r="6"/>
<circle cx="820.75" cy="415.79" r="6"/>
<circle cx="823.29" cy="410.33" r="6"/>
<circle cx="825.84" cy="407.32" r="6"/>
<circle cx="828.39" cy="405.26" r="6"/>
<circle cx="830.93" cy="399.12" r="6"/>
<circle cx="833.48" cy="394.11" r="6"/>
<circle cx="836.03" cy="389.71" r="6"/>
<circle cx="838.57" cy="385.55" r="6"/>
<circle cx="841.12" cy="381.13" r="6"/>
<circle cx="843.67" cy="378.52" r="6"/>
<circle cx="846.21" cy="375.93" r="6"/>
<circle cx="848.76" cy="370.00" r="6"/>
<circle cx="851.31" cy="365.40" r="6"/>
<circle cx="853.85" cy="361.12" r="6"/>
<circle cx="856.40" cy="357.46" r="6"/>
<circle cx="858.95" cy="353.78" r="6"/>
<circle cx="861.49" cy="351.72" r="6"/>
<circle cx="864.04" cy="350.29" r="6"/>
<circle cx="866.59" cy="345.83" r="6"/>
<circle cx="869.13" cy="342.11" r="6"/>
<circle cx="871.68" cy="338.75" r="6"/>
<circle cx="874.23" cy="335.99" r="6"/>
<circle cx="876.78" cy="332.87" r="6"/>
<circle cx="879.32" cy="331.46" r="6"/>
<circle cx="881.87" cy="330.39" r="6"/>
<circle cx="884.42" cy="327.01" r="6"/>
<circle cx="886.96" cy="324.52" r="6"/>
<circle cx="889.51" cy="322.36" r="6"/>
<circle cx="892.06" cy="320.15" r="6"/>
<circle cx="894.60" cy="317.83" r="6"/>
<circle cx="897.15" cy="316.68" r="6"/>
<circle cx="899.70" cy="315.90" r="6"/>
<circle cx="902.24" cy="313.10" r="6"/>
<circle cx="904.79" cy="311.07" r="6"/>
<circle cx="907.34" cy="309.19" r="6"/>
<circle cx="909.88" cy="307.68" r="6"/>
<circle cx="912.43" cy="307.21" r="6"/>
<circle cx="914.98" cy="306.38" r="6"/>
<circle cx="917.52" cy="305.55" r="6"/>
<circle cx="920.07" cy="302.72" r="6"/>
<circle cx="922.62" cy="300.62" r="6"/>
<circle cx="925.16" cy="298.62" r="6"/>
<circle cx="927.71" cy="297.03" r="6"/>
<circle cx="930.26" cy="296.54" r="6"/>
<circle cx="932.80" cy="295.51" r="6"/>
<circle cx="935.35" cy="294.75" r="6"/>
<circle cx="937.90" cy="292.06" r="6"/>
<circle cx="940.45" cy="290.04" r="6"/>
<circle cx="942.99" cy="289.40" r="6"/>
<circle cx="945.54" cy="287.33" r="6"/>
<circle cx="948.09" cy="285.39" r="6"/>
<circle cx="950.63" cy="284.35" r="6"/>
<circle cx="953.18" cy="283.67" r="6"/>
<circle cx="955.73" cy="281.58" r="6"/>
<circle cx="958.27" cy="280.08" r="6"/>
<circle cx="960.82" cy="278.81" r="6"/>
<circle cx="963.37" cy="277.44" r="6"/>
<circle cx="965.91" cy="276.13" r="6"/>
<circle cx="968.46" cy="275.54" r="6"/>
<circle cx="971.01" cy="275.13" r="6"/>
<circle cx="973.55" cy="273.84" r="6"/>
<circle cx="976.10" cy="272.45" r="6"/>
<circle cx="978.65" cy="271.25" r="6"/>
<circle cx="981.19" cy="269.87" r="6"/>
<circle cx="983.74" cy="268.36" r="6"/>
<circle cx="986.29" cy="267.52" r="6"/>
<circle cx="988.83" cy="267.07" r="6"/>
<circle cx="991.38" cy="264.47" r="6"/>
<circle cx="993.93" cy="262.38" r="6"/>
<circle cx="996.47" cy="260.55" r="6"/>
<circle cx="999.02" cy="258.61" r="6"/>
<circle cx="1001.57" cy="256.43" r="6"/>
<circle cx="1004.12" cy="255.27" r="6"/>
<circle cx="1006.66" cy="254.26" r="6"/>
<circle cx="1009.21" cy="250.91" r="6"/>
<circle cx="1011.76" cy="248.12" r="6"/>
<circle cx="1014.30" cy="245.65" r="6"/>
<circle cx="1016.85" cy="242.77" r="6"/>
<circle cx="1019.40" cy="239.59" r="6"/>
<circle cx="1021.94" cy="237.95" r="6"/>
<circle cx="1024.49" cy="236.79" r="6"/>
<circle cx="1027.04" cy="232.71" r="6"/>
<circle cx="1029.58" cy="229.13" r="6"/>
<circle cx="1032.13" cy="225.85" r="6"/>
<circle cx="1034.68" cy="222.57" r="6"/>
<circle cx="1037.22" cy="219.32" r="6"/>
<circle cx="1039.77" cy="217.60" r="6"/>
<circle cx="1042.32" cy="216.68" r="6"/>
<circle cx="1044.86" cy="213.33" r="6"/>
<circle cx="1047.41" cy="211.66" r="6"/>
<circle cx="1049.96" cy="208.52" r="6"/>
<circle cx="1052.50" cy="204.76" r="6"/>
<circle cx="1055.05" cy="201.15" r="6"/>
<circle cx="1057.60" cy="199.04" r="6"/>
<circle cx="1060.14" cy="197.41" r="6"/>
<circle cx="1062.69" cy="191.96" r="6"/>
<circle cx="1065.24" cy="187.43" r="6"/>
<circle cx="1067.79" cy="183.31" r="6"/>
<circle cx="1070.33" cy="178.81" r="6"/>
<circle cx="1072.88" cy="174.12" r="6"/>
<circle cx="1075.43" cy="171.34" r="6"/>
<circle cx="1077.97" cy="169.34" r="6"/>
<circle cx="1080.52" cy="162.22" r="6"/>
<circle cx="1083.07" cy="156.71" r="6"/>
<circle cx="1085.61" cy="151.46" r="6"/>
<circle cx="1088.16" cy="146.09" r="6"/>
<circle cx="1090.71" cy="140.38" r="6"/>
<circle cx="1093.25" cy="137.33" r="6"/>
<circle cx="1095.80" cy="135.23" r="6"/>
<circle cx="1098.35" cy="127.24" r="6"/>
<circle cx="1100.89" cy="121.28" r="6"/>
<circle cx="1103.44" cy="116.26" r="6"/>
</g>
<g stroke="#111" stroke-width="1.3" fill="none">
<path d="M102 95.9V657.3H1142"/>
<path d="M91.4 636.7H102"/>
<path d="M91.4 492.4H102"/>
<path d="M91.4 348.1H102"/>
<path d="M91.4 203.8H102"/>
<path d="M102 203.8V636.7" stroke="#000" stroke-width="1.5"/>
<path d="M930 657.3V668"/>
<path d="M1142 151.8V636.6"/>
<path d="M1142 636.6H1153"/>
<path d="M1142 515.4H1153"/>
<path d="M1142 394.2H1153"/>
<path d="M1142 273.0H1153"/>
<path d="M1142 151.8H1153"/>
</g>
<g font-size="17.5" fill="#000" stroke="#000" stroke-width="0.3">
<text x="79.8" y="642.2" text-anchor="end">0</text>
<text x="79.8" y="497.9" text-anchor="end">1000</text>
<text x="79.8" y="353.6" text-anchor="end">2000</text>
<text x="79.8" y="209.3" text-anchor="end">3000</text>
<text x="930" y="694.2" text-anchor="middle" textLength="33.3" lengthAdjust="spacingAndGlyphs">2021</text>
<text transform="translate(1178.3 637.4) rotate(-90)" text-anchor="middle">0</text>
<text transform="translate(1178.3 516.2) rotate(-90)" text-anchor="middle">50000</text>
<text transform="translate(1178.3 395.0) rotate(-90)" text-anchor="middle">100000</text>
<text transform="translate(1178.3 273.8) rotate(-90)" text-anchor="middle">150000</text>
<text transform="translate(1178.3 152.6) rotate(-90)" text-anchor="middle">200000</text>
</g>
<text x="620.9" y="68.6" stroke="#000" stroke-width="0.35" font-size="19.3" font-weight="bold" text-anchor="middle" textLength="1003.2" lengthAdjust="spacingAndGlyphs">Διάγραμμα 1: Αριθμός εργαστηριακά επιβεβαιωμένων κρουσμάτων COVID-19 στην Ελλάδα, 11 Μαρτίου 2021</text>
<text x="621.7" y="735.1" stroke="#000" stroke-width="0.25" font-size="17.8" text-anchor="middle" textLength="238" lengthAdjust="spacingAndGlyphs">Ημερομηνία λήψης δείγματος</text>
<text transform="translate(33.9 376.3) rotate(-90)" stroke="#000" stroke-width="0.25" font-size="17.6" text-anchor="middle" textLength="212.6" lengthAdjust="spacingAndGlyphs">Αριθμός νέων κρουσμάτων</text>
<text transform="translate(1219.7 375.3) rotate(-90)" stroke="#000" stroke-width="0.25" font-size="17.8" text-anchor="middle" textLength="260" lengthAdjust="spacingAndGlyphs">Συνολικός αριθμός κρουσμάτων</text>
</svg></body></html>
